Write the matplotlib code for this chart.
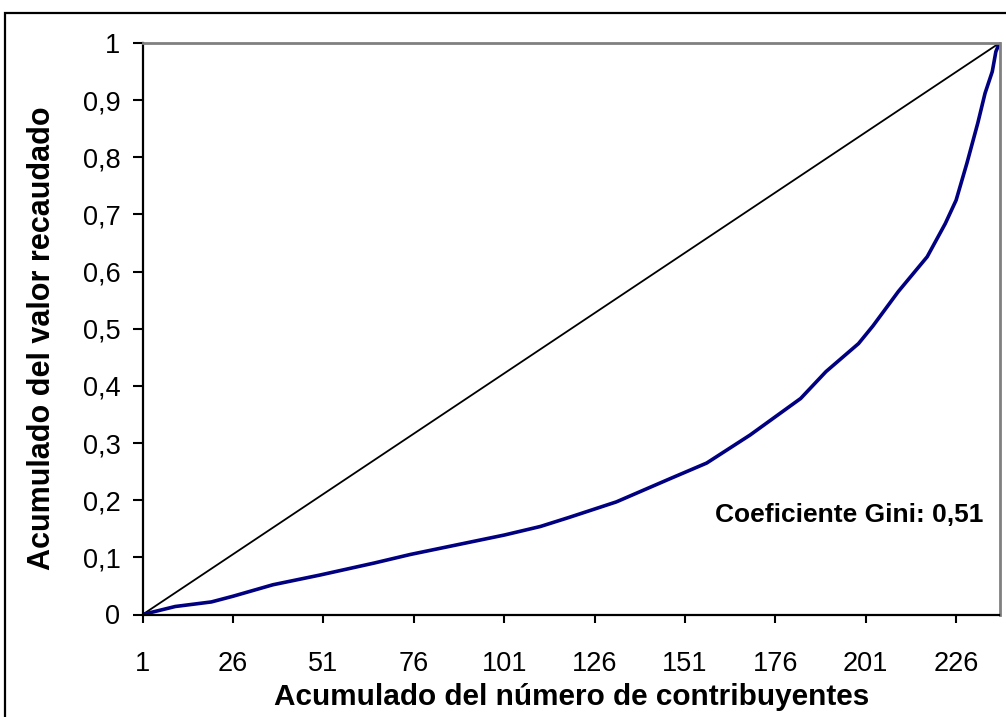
import matplotlib
matplotlib.use("Agg")
import matplotlib.pyplot as plt
from matplotlib.patches import Rectangle

plt.rcParams['font.family'] = ['Liberation Sans', 'DejaVu Sans']

# === Data ===

# Lorenz curve (cumulative share of revenue vs. contributor index)
lorenz_x = [1, 10, 20, 26, 37, 50, 65, 75, 88, 101, 111, 119, 132, 147, 157,
            169, 183, 190, 199, 203, 210, 218, 223, 226, 229, 232, 234, 236,
            237, 238]
lorenz_y = [0, 0.014, 0.022, 0.032, 0.052, 0.069, 0.090, 0.105, 0.122, 0.139,
            0.154, 0.170, 0.197, 0.238, 0.265, 0.314, 0.378, 0.425, 0.474,
            0.505, 0.565, 0.626, 0.684, 0.725, 0.79, 0.86, 0.912, 0.95,
            0.985, 1.0]

# line of perfect equality
equal_x = [1, 238]
equal_y = [0, 1]

x_ticks = [1, 26, 51, 76, 101, 126, 151, 176, 201, 226]
y_ticks = [0, 0.1, 0.2, 0.3, 0.4, 0.5, 0.6, 0.7, 0.8, 0.9, 1]
y_tick_labels = ['0', '0,1', '0,2', '0,3', '0,4', '0,5', '0,6', '0,7', '0,8', '0,9', '1']

gini_text = 'Coeficiente Gini: 0,51'
x_label = 'Acumulado del número de contribuyentes'
y_label = 'Acumulado del valor recaudado'

# === Figure ===

W, H = 1006, 717
fig = plt.figure(figsize=(W / 100, H / 100), dpi=100)

# chart area frame (runs off the right and bottom edges)
fig.patches.append(Rectangle((5 / W, -0.2), 1.2, 1 - 12.7 / H + 0.2,
                             transform=fig.transFigure, fill=False,
                             edgecolor='black', linewidth=1.6))

left, right, top, bottom = 142.7, 999.5, 43, 614.5
ax = fig.add_axes([left / W, 1 - bottom / H, (right - left) / W, (bottom - top) / H])

ax.plot(equal_x, equal_y, color='black', linewidth=1.3)
ax.plot(lorenz_x, lorenz_y, color='#000080', linewidth=2.6, solid_joinstyle='round')

ax.set_xlim(1, 238)
ax.set_ylim(0, 1)
ax.set_xticks(x_ticks)
ax.set_yticks(y_ticks)
ax.set_yticklabels(y_tick_labels)
ax.tick_params(axis='x', direction='out', length=6, width=1.5, pad=20, labelsize=19.5)
ax.tick_params(axis='y', direction='out', length=7, width=1.5, pad=9, labelsize=19.5)

for side in ['top', 'right']:
    ax.spines[side].set_color('#808080')
    ax.spines[side].set_linewidth(2)
for side in ['left', 'bottom']:
    ax.spines[side].set_color('black')
    ax.spines[side].set_linewidth(1.6)

ax.text(0.981, 0.174, gini_text, transform=ax.transAxes, ha='right', va='center',
        fontsize=19, fontweight='bold')

fig.text(572 / W, 1 - 697 / H, x_label, ha='center', va='center',
         fontsize=21.4, fontweight='bold')
fig.text(42 / W, 1 - 338 / H, y_label, ha='center', va='center', rotation=90,
         fontsize=22, fontweight='bold')

fig.savefig('out.png', dpi=100)
